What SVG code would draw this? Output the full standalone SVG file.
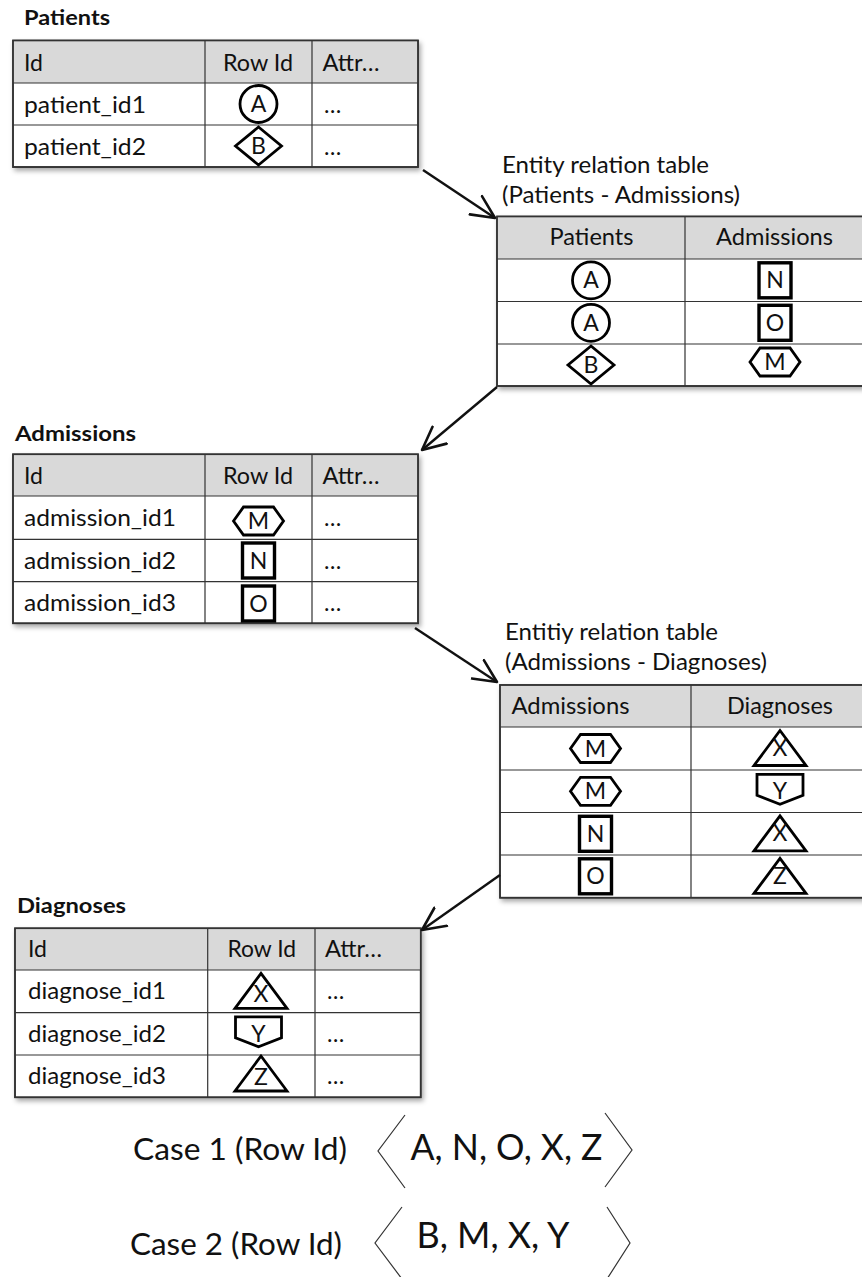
<svg xmlns="http://www.w3.org/2000/svg" width="862" height="1277" viewBox="0 0 862 1277">
  <style>
    text { font-family: Lato, "Liberation Sans", sans-serif; fill: #111; }
    .title { font-size: 20px; font-weight: bold; }
    .cell { font-size: 23px; }
    .mid { text-anchor: middle; }
    .sym { font-size: 23px; text-anchor: middle; }
    .frame { fill: #fff; stroke: #333; stroke-width: 1.6; }
    .outline { fill: none; stroke: #333; stroke-width: 1.6; }
    .head { fill: #d9d9d9; stroke: none; }
    .grid { stroke: #333; stroke-width: 1.2; fill: none; }
    .shape { fill: #fff; stroke: #000; stroke-width: 2.8; stroke-linejoin: miter; }
    .bold { stroke-width: 3.4; }
    .edge { stroke: #111; stroke-width: 2.4; fill: none; }
    .case { font-size: 31px; }
    .seq { font-size: 36px; }
    .bracket { stroke: #333; stroke-width: 1.2; fill: none; }
  </style>
  <defs>
    <filter id="shadow" x="-5%" y="-5%" width="112%" height="115%">
      <feDropShadow dx="2" dy="3" stdDeviation="2.5" flood-color="#000" flood-opacity="0.35"/>
    </filter>
    <marker id="open-arrow" markerUnits="userSpaceOnUse" markerWidth="30" markerHeight="30" refX="24" refY="12" orient="auto" viewBox="0 0 30 24">
      <path d="M1,1 L24,12 L1,23" fill="none" stroke="#111" stroke-width="2.6" stroke-linecap="round" stroke-linejoin="round"/>
    </marker>
    <!-- row id glyph outlines, centred on the origin -->
    <circle id="g-circle" class="shape" r="18.5"/>
    <polygon id="g-diamond" class="shape" points="0,-19 23,0 0,19 -23,0"/>
    <rect id="g-square" class="shape bold" x="-16" y="-17.5" width="32" height="35"/>
    <polygon id="g-hex" class="shape" points="-25,0 -15,-14 15,-14 25,0 15,14 -15,14"/>
    <polygon id="g-tri" class="shape" points="0,-18 26,17 -26,17"/>
    <polygon id="g-pent" class="shape" points="-23,-17 23,-17 23,4 0,13 -23,4"/>
  </defs>

  <!-- Patients -->
  <g id="patients">
    <text class="title" x="24" y="25" textLength="86" lengthAdjust="spacingAndGlyphs">Patients</text>
    <g filter="url(#shadow)">
      <rect class="frame" x="13" y="40.5" width="405" height="126.5"/>
    </g>
    <rect class="head" x="13.8" y="41.3" width="403.4" height="41.7"/>
    <path class="grid" d="M13,83 H418 M13,125 H418 M205,40.5 V167 M312,40.5 V167"/>
    <rect class="outline" x="13" y="40.5" width="405" height="126.5"/>
    <text class="cell" x="24" y="70.5">Id</text>
    <text class="cell" x="223" y="70.5" textLength="70" lengthAdjust="spacingAndGlyphs">Row Id</text>
    <text class="cell" x="322.5" y="70.5" textLength="57" lengthAdjust="spacingAndGlyphs">Attr…</text>
    <text class="cell" x="24" y="112.5" textLength="122" lengthAdjust="spacingAndGlyphs">patient_id1</text>
    <text class="cell" x="324" y="112.5">…</text>
    <text class="cell" x="24" y="155" textLength="122" lengthAdjust="spacingAndGlyphs">patient_id2</text>
    <text class="cell" x="324" y="155">…</text>
    <use href="#g-circle" x="258.5" y="104"/>
    <text class="sym" x="258.5" y="112">A</text>
    <use href="#g-diamond" x="258.5" y="146"/>
    <text class="sym" x="258.5" y="154">B</text>
  </g>

  <!-- Patients - Admissions relation -->
  <g id="rel-patients-admissions">
    <text class="cell" x="502" y="173" textLength="207" lengthAdjust="spacingAndGlyphs">Entity relation table</text>
    <text class="cell" x="502" y="203" textLength="238" lengthAdjust="spacingAndGlyphs">(Patients - Admissions)</text>
    <g filter="url(#shadow)">
      <rect class="frame" x="497" y="216.5" width="367" height="169.5"/>
    </g>
    <rect class="head" x="497.8" y="217.3" width="365" height="41.7"/>
    <path class="grid" d="M497,259 H864 M497,301.5 H864 M497,344 H864 M685,216.5 V386"/>
    <rect class="outline" x="497" y="216.5" width="367" height="169.5"/>
    <text class="cell" x="549.5" y="245" textLength="84" lengthAdjust="spacingAndGlyphs">Patients</text>
    <text class="cell" x="716" y="245" textLength="117" lengthAdjust="spacingAndGlyphs">Admissions</text>
    <use href="#g-circle" x="591" y="280.3"/>
    <text class="sym" x="591" y="288.3">A</text>
    <use href="#g-circle" x="591" y="322.8"/>
    <text class="sym" x="591" y="330.8">A</text>
    <use href="#g-diamond" x="591" y="365"/>
    <text class="sym" x="591" y="373">B</text>
    <use href="#g-square" x="775" y="280.3"/>
    <text class="sym" x="775" y="288.3">N</text>
    <use href="#g-square" x="775" y="322.8"/>
    <text class="sym" x="775" y="330.8">O</text>
    <use href="#g-hex" x="775" y="362"/>
    <text class="sym" x="775" y="370">M</text>
  </g>

  <!-- Admissions -->
  <g id="admissions">
    <text class="title" x="15" y="441" textLength="121" lengthAdjust="spacingAndGlyphs">Admissions</text>
    <g filter="url(#shadow)">
      <rect class="frame" x="13" y="454.3" width="405" height="169"/>
    </g>
    <rect class="head" x="13.8" y="455.1" width="403.4" height="40.9"/>
    <path class="grid" d="M13,496 H418 M13,539.3 H418 M13,581.7 H418 M205,454.3 V623.3 M312,454.3 V623.3"/>
    <rect class="outline" x="13" y="454.3" width="405" height="169"/>
    <text class="cell" x="24" y="483.5">Id</text>
    <text class="cell" x="223" y="483.5" textLength="70" lengthAdjust="spacingAndGlyphs">Row Id</text>
    <text class="cell" x="322.5" y="483.5" textLength="57" lengthAdjust="spacingAndGlyphs">Attr…</text>
    <text class="cell" x="24" y="526" textLength="152" lengthAdjust="spacingAndGlyphs">admission_id1</text>
    <text class="cell" x="324" y="526">…</text>
    <text class="cell" x="24" y="568.5" textLength="152" lengthAdjust="spacingAndGlyphs">admission_id2</text>
    <text class="cell" x="324" y="568.5">…</text>
    <text class="cell" x="24" y="611" textLength="152" lengthAdjust="spacingAndGlyphs">admission_id3</text>
    <text class="cell" x="324" y="611">…</text>
    <use href="#g-hex" x="258.5" y="521"/>
    <text class="sym" x="258.5" y="529">M</text>
    <use href="#g-square" x="258.5" y="560.5"/>
    <text class="sym" x="258.5" y="568.5">N</text>
    <use href="#g-square" x="258.5" y="603.5"/>
    <text class="sym" x="258.5" y="611.5">O</text>
  </g>

  <!-- Admissions - Diagnoses relation -->
  <g id="rel-admissions-diagnoses">
    <text class="cell" x="505" y="640" textLength="213" lengthAdjust="spacingAndGlyphs">Entitiy relation table</text>
    <text class="cell" x="505" y="670" textLength="262" lengthAdjust="spacingAndGlyphs">(Admissions - Diagnoses)</text>
    <g filter="url(#shadow)">
      <rect class="frame" x="500" y="685" width="369" height="212.7"/>
    </g>
    <rect class="head" x="500.8" y="685.8" width="367" height="41.2"/>
    <path class="grid" d="M500,727 H869 M500,770 H869 M500,812.5 H869 M500,855 H869 M691,685 V897.7"/>
    <rect class="outline" x="500" y="685" width="369" height="212.7"/>
    <text class="cell" x="511.5" y="713.5" textLength="118" lengthAdjust="spacingAndGlyphs">Admissions</text>
    <text class="cell" x="727" y="713.5" textLength="106" lengthAdjust="spacingAndGlyphs">Diagnoses</text>
    <use href="#g-hex" x="595.5" y="748.5"/>
    <text class="sym" x="595.5" y="756.5">M</text>
    <use href="#g-hex" x="595.5" y="791.3"/>
    <text class="sym" x="595.5" y="799.3">M</text>
    <use href="#g-square" x="595.5" y="833.8"/>
    <text class="sym" x="595.5" y="841.8">N</text>
    <use href="#g-square" x="595.5" y="876.3"/>
    <text class="sym" x="595.5" y="884.3">O</text>
    <use href="#g-tri" x="780" y="748.5"/>
    <text class="sym" x="780" y="756">X</text>
    <use href="#g-pent" x="780" y="791.3"/>
    <text class="sym" x="780" y="799.3">Y</text>
    <use href="#g-tri" x="780" y="833.8"/>
    <text class="sym" x="780" y="841.3">X</text>
    <use href="#g-tri" x="780" y="876.3"/>
    <text class="sym" x="780" y="883.8">Z</text>
  </g>

  <!-- Diagnoses -->
  <g id="diagnoses">
    <text class="title" x="17" y="913" textLength="109" lengthAdjust="spacingAndGlyphs">Diagnoses</text>
    <g filter="url(#shadow)">
      <rect class="frame" x="15" y="928.3" width="405.7" height="169"/>
    </g>
    <rect class="head" x="15.8" y="929.1" width="404.1" height="40.9"/>
    <path class="grid" d="M15,970 H420.7 M15,1012.7 H420.7 M15,1055 H420.7 M207.7,928.3 V1097.3 M315,928.3 V1097.3"/>
    <rect class="outline" x="15" y="928.3" width="405.7" height="169"/>
    <text class="cell" x="28" y="957">Id</text>
    <text class="cell" x="227.5" y="957" textLength="68.5" lengthAdjust="spacingAndGlyphs">Row Id</text>
    <text class="cell" x="325" y="957" textLength="57" lengthAdjust="spacingAndGlyphs">Attr…</text>
    <text class="cell" x="28" y="999" textLength="138" lengthAdjust="spacingAndGlyphs">diagnose_id1</text>
    <text class="cell" x="327" y="999">…</text>
    <text class="cell" x="28" y="1041.5" textLength="138" lengthAdjust="spacingAndGlyphs">diagnose_id2</text>
    <text class="cell" x="327" y="1041.5">…</text>
    <text class="cell" x="28" y="1084" textLength="138" lengthAdjust="spacingAndGlyphs">diagnose_id3</text>
    <text class="cell" x="327" y="1084">…</text>
    <use href="#g-tri" x="261" y="991.3"/>
    <text class="sym" x="261" y="1002">X</text>
    <use href="#g-pent" x="258.5" y="1033.8"/>
    <text class="sym" x="258.5" y="1042">Y</text>
    <use href="#g-tri" x="261" y="1074"/>
    <text class="sym" x="261" y="1085">Z</text>
  </g>

  <!-- connectors between tables -->
  <g id="connectors">
    <line class="edge" x1="423" y1="170" x2="495" y2="218" marker-end="url(#open-arrow)"/>
    <line class="edge" x1="497" y1="387" x2="422" y2="450" marker-end="url(#open-arrow)"/>
    <line class="edge" x1="415" y1="628" x2="497" y2="682" marker-end="url(#open-arrow)"/>
    <line class="edge" x1="500" y1="875" x2="422" y2="930" marker-end="url(#open-arrow)"/>
  </g>

  <!-- row id sequences per case -->
  <g id="case-1">
    <text class="case" x="133" y="1160" textLength="214" lengthAdjust="spacingAndGlyphs">Case 1 (Row Id)</text>
    <polyline class="bracket" points="405,1115 378,1151 405,1188"/>
    <text class="seq" x="410.5" y="1160" textLength="192" lengthAdjust="spacingAndGlyphs">A, N, O, X, Z</text>
    <polyline class="bracket" points="605,1113 632,1150 605,1187"/>
  </g>
  <g id="case-2">
    <text class="case" x="130" y="1255" textLength="212" lengthAdjust="spacingAndGlyphs">Case 2 (Row Id)</text>
    <polyline class="bracket" points="402,1207 375,1243 402,1279"/>
    <text class="seq" x="416.5" y="1248" textLength="153" lengthAdjust="spacingAndGlyphs">B, M, X, Y</text>
    <polyline class="bracket" points="607,1207 630,1243 607,1279"/>
  </g>
</svg>
